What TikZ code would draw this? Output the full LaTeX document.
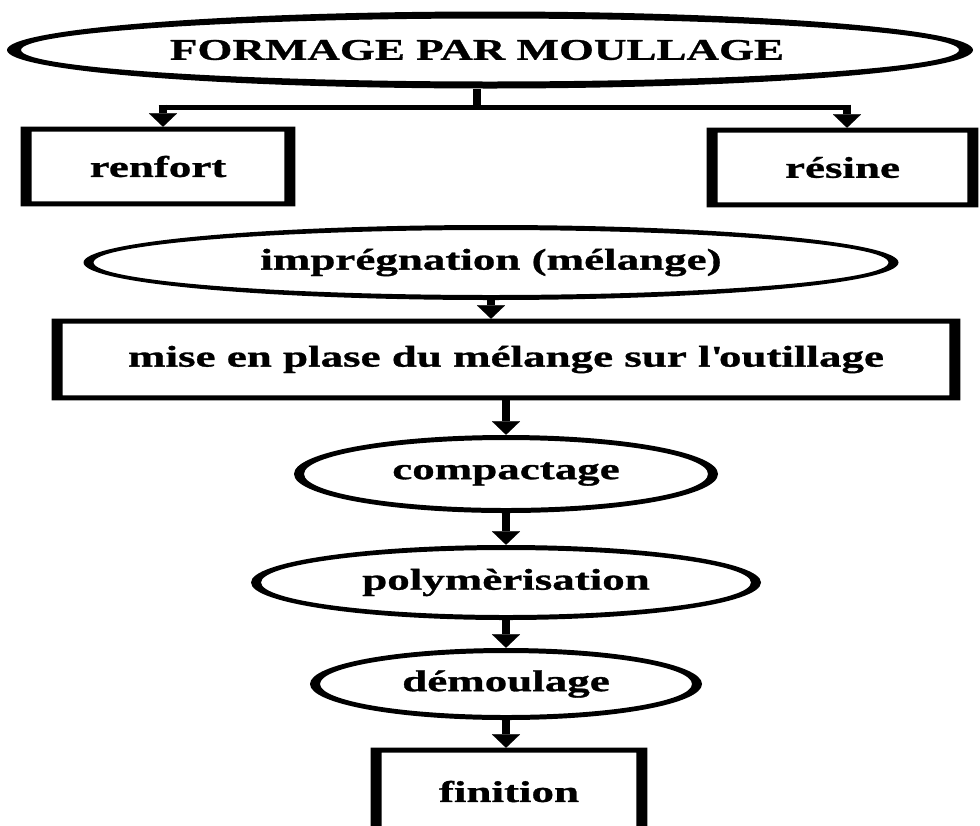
\documentclass[tikz,border=0pt]{standalone}
\usepackage{fontspec}
\setmainfont[FakeStretch=1.5, FakeBold=1]{Liberation Serif}
\usetikzlibrary{shapes.geometric,arrows.meta,calc}

% Straight typewriter apostrophe, kept out of the TeX quote mapping
\newcommand\straightquote{\XeTeXglyph\XeTeXcharglyph"27\relax}

% Outlined shapes are drawn as filled rings, so the side strokes can be
% heavier than the top and bottom strokes.
\newcommand\boxring[3]{% node name, side stroke, top/bottom stroke
  \fill[even odd rule] (#1.north west) rectangle (#1.south east)
    ($(#1.north west)+(#2,#3)$) rectangle ($(#1.south east)+(-#2,-#3)$);}
\newcommand\ovalring[5]{% node name, outer radii (x,y), inner radii (x,y)
  \fill[even odd rule] (#1.center) ellipse [x radius=#2, y radius=#3]
    (#1.center) ellipse [x radius=#4, y radius=#5];}

\tikzset{
  txt/.style={font=\fontsize{22.5}{27}\selectfont\bfseries, text=black, inner sep=0pt},
  oval/.style={txt, ellipse},
  boxed/.style={txt, rectangle},
  flow/.style={line width=6.5pt,
    -{Triangle[width=21pt,length=10pt,line width=0.1pt]}},
  hline/.style={line width=3.75pt},
  stem/.style={line width=6pt}
}

\begin{document}
\begin{tikzpicture}[x=0.75pt,y=-0.75pt]
  \clip (0,0) rectangle (980,825);
  \fill[white] (0,0) rectangle (980,825);

  % process steps
  \node[oval, minimum width=724.5pt, minimum height=57.75pt] (top) at (490,50) {FORMAGE PAR MOULLAGE\hspace*{19.5pt}};
  \node[boxed, minimum width=205.5pt, minimum height=59.25pt] (renfort) at (158,166.5) {renfort};
  \node[boxed, minimum width=203.25pt, minimum height=59.25pt] (resine) at (842.5,167.5) {résine};
  \node[oval, minimum width=611.25pt, minimum height=56.25pt] (imp) at (491,262.5) {imprégnation (mélange)};
  \node[boxed, minimum width=681pt, minimum height=60.75pt] (mise) at (506,359.5) {mise en plase du mélange sur l\straightquote outillage};
  \node[oval, minimum width=318pt, minimum height=58.5pt] (comp) at (506,474) {compactage};
  \node[oval, minimum width=382.5pt, minimum height=56.25pt] (poly) at (506,582.5) {polymèrisation};
  \node[oval, minimum width=294pt, minimum height=54pt] (demo) at (506,684) {démoulage};
  \node[boxed, minimum width=207pt, minimum height=65.25pt] (fin) at (509,791.5) {finition};

  % outlines
  \ovalring{top}{483}{38.5}{469}{31.5}
  \boxring{renfort}{11}{5}
  \boxring{resine}{11}{5}
  \ovalring{imp}{407.5}{37.5}{397.5}{32.5}
  \boxring{mise}{11}{5}
  \ovalring{comp}{212}{39}{202}{34}
  \ovalring{poly}{255}{37.5}{245}{32.5}
  \ovalring{demo}{196}{36}{186}{31}
  \boxring{fin}{11}{5}

  % branching connector below the title
  \coordinate (j) at (477,107);
  \coordinate (jl) at (163,107);
  \coordinate (jr) at (847,107);
  \draw[stem] (top.south -| j) -- (j);
  \draw[hline] ([xshift=-3.25pt]jl) -- ([xshift=3.25pt]jr);
  \draw[flow] ([yshift=1.875pt]jl) -- (jl |- renfort.north);
  \draw[flow] ([yshift=1.875pt]jr) -- (jr |- resine.north);

  % main sequence
  \draw[flow] (imp.south) -- (imp.south |- mise.north);
  \draw[flow] (mise.south) -- (mise.south |- comp.north);
  \draw[flow] (comp.south) -- (comp.south |- poly.north);
  \draw[flow] (poly.south) -- (poly.south |- demo.north);
  \draw[flow] (demo.south) -- (demo.south |- fin.north);
\end{tikzpicture}
\end{document}
